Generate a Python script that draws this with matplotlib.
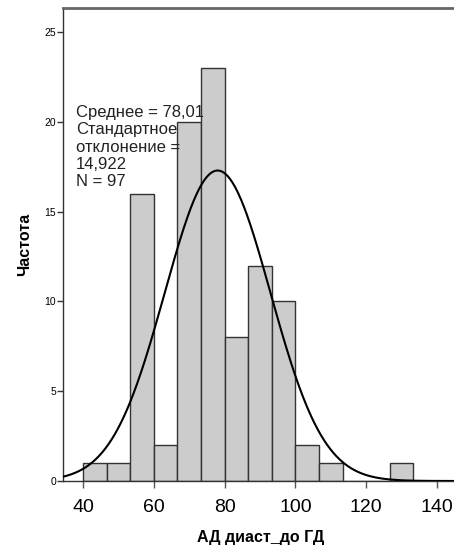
import numpy as np
import matplotlib
matplotlib.use("Agg")
import matplotlib.pyplot as plt

plt.rcParams['font.family'] = ['Liberation Sans', 'DejaVu Sans']

# Data
bin_edges = [40, 46.67, 53.33, 60, 66.67, 73.33, 80, 86.67, 93.33, 100, 106.67, 113.33, 120, 126.67, 133.33]
counts = [1, 1, 16, 2, 20, 23, 8, 12, 10, 2, 1, 0, 0, 1]
mean_val = 78.01
std_val = 14.922
n_val = 97
x_ticks = [40, 60, 80, 100, 120, 140]
y_ticks = [0, 5, 10, 15, 20, 25]
stats_text = "Среднее = 78,01\nСтандартное\nотклонение =\n14,922\nN = 97"
xlabel = "АД диаст_до ГД"
ylabel = "Частота"

fig = plt.figure(figsize=(4.54, 5.45), dpi=100)
ax = fig.add_axes([63/454, 64/545, 395/454, 473/545])

lefts = bin_edges[:-1]
widths = [b - a for a, b in zip(bin_edges[:-1], bin_edges[1:])]
ax.bar(lefts, counts, width=widths, align='edge', color='#cccccc',
       edgecolor='#333333', linewidth=1.0, zorder=2)

xlim = (34.35, 145.9)
xs = np.linspace(xlim[0], xlim[1], 400)
bw = widths[0]
ys = n_val * bw / (std_val * np.sqrt(2 * np.pi)) * np.exp(-0.5 * ((xs - mean_val) / std_val) ** 2)
ax.plot(xs, ys, color='black', linewidth=1.5, zorder=3)

ax.set_xlim(*xlim)
ax.set_ylim(0, 26.35)
ax.set_xticks(x_ticks)
ax.set_yticks(y_ticks)
ax.tick_params(axis='x', labelsize=14, length=5, width=1, direction='out', pad=8, color='#555555')
ax.tick_params(axis='y', labelsize=7.5, length=4, width=1, direction='out', pad=1, color='#333333')

for s in ['left', 'bottom']:
    ax.spines[s].set_color('#333333')
    ax.spines[s].set_linewidth(1.0)
ax.spines['top'].set_color('#666666')
ax.spines['top'].set_linewidth(2.0)
ax.spines['right'].set_visible(False)

ax.set_xlabel(xlabel, fontsize=11.5, fontweight='bold', labelpad=10)
ax.set_ylabel(ylabel, fontsize=11.5, fontweight='bold', labelpad=9)

ax.text(38.0, 20.96, stats_text, fontsize=12, color='#222222', va='top', ha='left',
        linespacing=1.2, zorder=4)

fig.savefig("out.png", dpi=100)
